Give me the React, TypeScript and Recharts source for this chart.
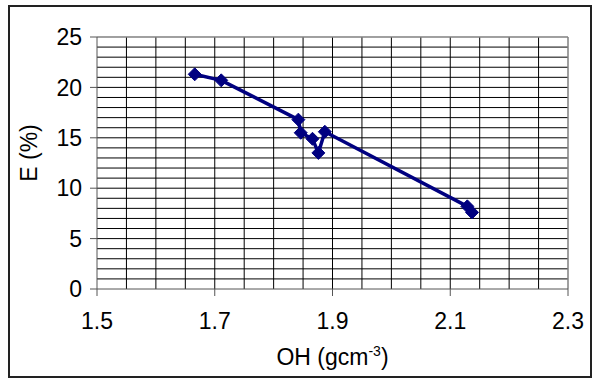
import { CartesianGrid, Line, LineChart, ReferenceLine, XAxis, YAxis } from "recharts";

// OH density (g/cm³) against E (%)
const ohValues = [1.666, 1.711, 1.842, 1.846, 1.866, 1.876, 1.887, 2.129, 2.137];
const eValues = [21.3, 20.7, 16.8, 15.5, 14.9, 13.5, 15.6, 8.2, 7.6];

const xTicks = [1.5, 1.7, 1.9, 2.1, 2.3];
const yTicks = [0, 5, 10, 15, 20, 25];
// minor grid: every 0.05 on x, every 1 on y
const xGrid = [1.55, 1.6, 1.65, 1.7, 1.75, 1.8, 1.85, 1.9, 1.95, 2.0, 2.05, 2.1, 2.15, 2.2, 2.25];
const yGrid = [1, 2, 3, 4, 5, 6, 7, 8, 9, 10, 11, 12, 13, 14, 15, 16, 17, 18, 19, 20, 21, 22, 23, 24];

const X_DOMAIN: [number, number] = [1.5, 2.3];
const Y_DOMAIN: [number, number] = [0, 25];

const data = ohValues.map((x, i) => ({ x, e: eValues[i] }));

const INK = "#000080";
const FONT = "'Liberation Sans', Arial, sans-serif";
const TICK = { fill: "#000", fontSize: 23, fontFamily: FONT };

function Diamond(props: any) {
  const { cx, cy, index } = props;
  if (cx == null || cy == null) return null;
  const r = 6.5;
  return (
    <path
      key={`d-${index}`}
      d={`M${cx},${cy - r}L${cx + r},${cy}L${cx},${cy + r}L${cx - r},${cy}Z`}
      fill={INK}
      stroke={INK}
    />
  );
}

// grid lines placed along the plot offset that recharts hands the generator
const toX = (v: number, offset: any) =>
  offset.left + ((v - X_DOMAIN[0]) / (X_DOMAIN[1] - X_DOMAIN[0])) * offset.width;
const toY = (v: number, offset: any) =>
  offset.top + offset.height * (1 - (v - Y_DOMAIN[0]) / (Y_DOMAIN[1] - Y_DOMAIN[0]));

export default function App() {
  return (
    <div style={{ position: "absolute", left: 0, top: 0, width: 592, height: 378, background: "#fff" }}>
      <LineChart
        width={592}
        height={378}
        data={data}
        margin={{ top: 37, right: 24, bottom: 0, left: 0 }}
      >
        <CartesianGrid
          stroke="#000"
          strokeWidth={1}
          verticalCoordinatesGenerator={({ offset }: any) => xGrid.map((v) => toX(v, offset))}
          horizontalCoordinatesGenerator={({ offset }: any) => yGrid.map((v) => toY(v, offset))}
        />
        <XAxis
          type="number"
          dataKey="x"
          domain={X_DOMAIN}
          ticks={xTicks}
          allowDataOverflow
          height={89}
          tick={TICK}
          tickSize={7}
          tickMargin={17}
          tickFormatter={(v: number) => v.toFixed(1)}
          axisLine={{ stroke: "#555" }}
          tickLine={{ stroke: "#555" }}
          label={{
            content: ({ viewBox }: any) => (
              <text
                x={viewBox.x + viewBox.width / 2}
                y={365}
                textAnchor="middle"
                fontSize={23}
                fontFamily={FONT}
                fill="#000"
              >
                OH (gcm
                <tspan dy={-9} fontSize={14}>-3</tspan>
                <tspan dy={9}>)</tspan>
              </text>
            ),
          }}
        />
        <YAxis
          type="number"
          domain={Y_DOMAIN}
          ticks={yTicks}
          width={97}
          tick={TICK}
          tickSize={7}
          tickMargin={8}
          axisLine={{ stroke: "#555" }}
          tickLine={{ stroke: "#555" }}
          label={{
            content: () => (
              <text
                x={37}
                y={153}
                transform="rotate(-90 37 153)"
                textAnchor="middle"
                fontSize={23}
                fontFamily={FONT}
                fill="#000"
              >
                E (%)
              </text>
            ),
          }}
        />
        <ReferenceLine y={25} stroke="#808080" strokeWidth={1.5} />
        <ReferenceLine x={2.3} stroke="#808080" strokeWidth={1.5} />
        <Line
          type="linear"
          dataKey="e"
          stroke={INK}
          strokeWidth={3.5}
          strokeLinejoin="round"
          dot={<Diamond />}
          activeDot={false}
          isAnimationActive={false}
        />
      </LineChart>
      <div
        style={{
          position: "absolute",
          left: 8,
          top: 5,
          width: 584,
          height: 373,
          boxSizing: "border-box",
          border: "2px solid #222",
          pointerEvents: "none",
        }}
      />
    </div>
  );
}
